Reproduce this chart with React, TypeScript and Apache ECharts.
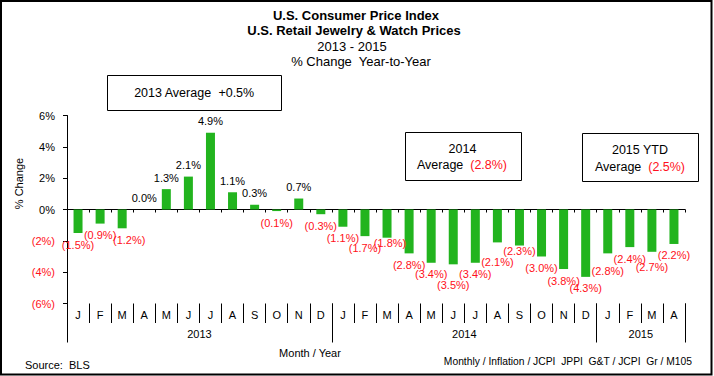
import React, { useEffect, useRef } from 'react';
import * as echarts from 'echarts';

// ---------- data ----------
const years = ['2013', '2014', '2015'];
const monthsPerYear = [12, 12, 4];
const monthLetters = ['J', 'F', 'M', 'A', 'M', 'J', 'J', 'A', 'S', 'O', 'N', 'D'];
const values2013 = [-1.5, -0.9, -1.2, 0.0, 1.3, 2.1, 4.9, 1.1, 0.3, -0.1, 0.7, -0.3];
const values2014 = [-1.1, -1.7, -1.8, -2.8, -3.4, -3.5, -3.4, -2.1, -2.3, -3.0, -3.8, -4.3];
const values2015 = [-2.8, -2.4, -2.7, -2.2];
const yMin = -6;
const yMax = 6;
const yStep = 2;
const titleLines = [
  'U.S. Consumer Price Index',
  'U.S. Retail Jewelry & Watch Prices',
  '2013 - 2015',
  '% Change  Year-to-Year',
];
const avg2013 = 0.5;
const avg2014 = -2.8;
const avg2015 = -2.5;
const sourceText = 'Source:  BLS';
const footerText = 'Monthly / Inflation / JCPI  JPPI  G&T / JCPI  Gr / M105';
const xAxisName = 'Month / Year';
const yAxisName = '% Change';

// ---------- style ----------
const FONT = 'Arial, "Liberation Sans", sans-serif';
const GREEN = '#22b41e';
const RED = '#ff1020';
const BLACK = '#000000';
// label nudges (px) for a few data labels, by bar index
const labelNudges: Record<number, [number, number]> = {
  2: [7, 0],
  14: [3, -6],
  17: [0, 9],
  19: [0, 8],
  20: [0, -6],
  24: [0, 6],
  26: [0, 4],
};

const allValues = [...values2013, ...values2014, ...values2015];
const monthLabels: string[] = [];
const categories: string[] = [];
years.forEach((y, yi) => {
  for (let m = 0; m < monthsPerYear[yi]; m++) {
    monthLabels.push(monthLetters[m]);
    categories.push(`${y}-${m + 1}`);
  }
});
// boundaries for the year axis (n+1 points)
const boundaries: string[] = [];
for (let i = 0; i <= categories.length; i++) boundaries.push(String(i));
const yearStarts: number[] = [];
const yearMid: Record<number, string> = {};
{
  let acc = 0;
  years.forEach((y, yi) => {
    yearStarts.push(acc);
    yearMid[acc + monthsPerYear[yi] / 2] = y;
    acc += monthsPerYear[yi];
  });
  yearStarts.push(acc);
}

const fmtPct = (v: number, digits: number) =>
  v >= 0 ? `${v.toFixed(digits)}%` : `(${(-v).toFixed(digits)}%)`;
const fmtAvg = (v: number) => (v >= 0 ? `+${v.toFixed(1)}%` : `(${(-v).toFixed(1)}%)`);

export default function App() {
  const ref = useRef<HTMLDivElement>(null);
  useEffect(() => {
    if (!ref.current) return;
    const chart = echarts.init(ref.current, null, { renderer: 'svg' });

    const text = (
      t: string,
      x: number,
      y: number,
      opts: any = {}
    ) => ({
      type: 'text',
      x,
      y,
      silent: true,
      style: {
        text: t,
        fill: BLACK,
        fontFamily: FONT,
        fontSize: 11,
        textAlign: 'center',
        textVerticalAlign: 'middle',
        ...opts,
      },
    });
    const box = (x: number, y: number, w: number, h: number) => ({
      type: 'rect',
      shape: { x, y, width: w, height: h },
      silent: true,
      style: { fill: '#fff', stroke: BLACK, lineWidth: 1 },
    });
    const avgLine = (label: string, v: number, x: number, y: number) =>
      text(`{a|${label}  }{${v < 0 ? 'r' : 'a'}|${fmtAvg(v)}}`, x, y, {
        fontSize: 12.5,
        rich: {
          a: { fill: BLACK, fontSize: 12.5, fontFamily: FONT },
          r: { fill: RED, fontSize: 12.5, fontFamily: FONT },
        },
      });

    const option: any = {
      animation: false,
      backgroundColor: '#ffffff',
      textStyle: { fontFamily: FONT },
      grid: { left: 67, right: 29, top: 115.5, height: 188, containLabel: false },
      xAxis: [
        {
          type: 'category',
          data: categories,
          position: 'bottom',
          boundaryGap: true,
          axisLine: { show: true, onZero: true, lineStyle: { color: BLACK, width: 1 } },
          axisTick: { show: true, interval: 0, length: 3, lineStyle: { color: BLACK } },
          axisLabel: { show: false },
          splitLine: { show: false },
        },
        {
          type: 'category',
          data: categories,
          position: 'bottom',
          boundaryGap: true,
          axisLine: { show: false, onZero: false },
          axisTick: { show: true, interval: 0, length: 19.5, lineStyle: { color: BLACK } },
          axisLabel: {
            show: true,
            interval: 0,
            margin: 6,
            fontSize: 11,
            color: BLACK,
            fontFamily: FONT,
            formatter: (_v: string, i: number) => monthLabels[i],
          },
          splitLine: { show: false },
        },
        {
          type: 'category',
          data: boundaries,
          position: 'bottom',
          boundaryGap: false,
          axisLine: { show: false, onZero: false },
          axisTick: {
            show: true,
            interval: (i: number) => yearStarts.includes(i),
            length: 39,
            lineStyle: { color: BLACK },
          },
          axisLabel: {
            show: true,
            interval: 0,
            margin: 25,
            fontSize: 11,
            color: BLACK,
            fontFamily: FONT,
            formatter: (_v: string, i: number) => yearMid[i] || '',
          },
          splitLine: { show: false },
        },
      ],
      yAxis: {
        type: 'value',
        min: yMin,
        max: yMax,
        interval: yStep,
        axisLine: { show: true, lineStyle: { color: BLACK, width: 1 } },
        axisTick: { show: true, length: 4, lineStyle: { color: BLACK } },
        splitLine: { show: false },
        axisLabel: {
          margin: 12,
          fontSize: 11,
          fontFamily: FONT,
          formatter: (v: number) => fmtPct(Number(v), 0),
          color: (v: any) => (Number(v) < 0 ? RED : BLACK),
        },
      },
      series: [
        {
          type: 'bar',
          xAxisIndex: 0,
          yAxisIndex: 0,
          barWidth: 9,
          itemStyle: { color: GREEN },
          label: {
            show: true,
            fontSize: 11,
            fontFamily: FONT,
            distance: 6,
            formatter: (p: any) => fmtPct(Number(p.value), 1),
          },
          data: allValues.map((v, i) => ({
            value: v,
            label: {
              position: v >= 0 ? 'top' : 'bottom',
              offset: labelNudges[i] || [0, 0],
              color: v < 0 ? RED : BLACK,
            },
          })),
        },
      ],
      graphic: [
        {
          type: 'rect',
          shape: { x: 1, y: 1, width: 710.5, height: 373.5 },
          silent: true,
          style: { fill: 'none', stroke: BLACK, lineWidth: 2 },
        },
        text(titleLines[0], 356, 15.5, { fontSize: 13, fontWeight: 'bold' }),
        text(titleLines[1], 354, 30.5, { fontSize: 13, fontWeight: 'bold' }),
        text(titleLines[2], 352, 46, { fontSize: 13 }),
        text(titleLines[3], 361, 61.5, { fontSize: 13 }),
        box(107.5, 75.5, 174, 35),
        avgLine(`${years[0]} Average`, avg2013, 194, 92.5),
        box(405.5, 132.5, 116, 48),
        text(years[1], 462.5, 148.5, { fontSize: 12.5 }),
        avgLine('Average', avg2014, 462, 165),
        box(582.5, 133.5, 116, 48),
        text(`${years[2]} YTD`, 640, 149.5, { fontSize: 12.5 }),
        avgLine('Average', avg2015, 640, 166.5),
        {
          ...text(yAxisName, 19, 183.5, { fontSize: 11 }),
          rotation: Math.PI / 2,
        },
        text(xAxisName, 310, 353, { fontSize: 11 }),
        text(sourceText, 25, 365, { fontSize: 11, textAlign: 'left' }),
        text(footerText, 692, 361, { fontSize: 10.3, textAlign: 'right' }),
      ],
    };
    chart.setOption(option);
    return () => chart.dispose();
  }, []);

  return (
    <div
      ref={ref}
      style={{ position: 'fixed', left: 0, top: 0, width: 714, height: 376, background: '#fff' }}
    />
  );
}
